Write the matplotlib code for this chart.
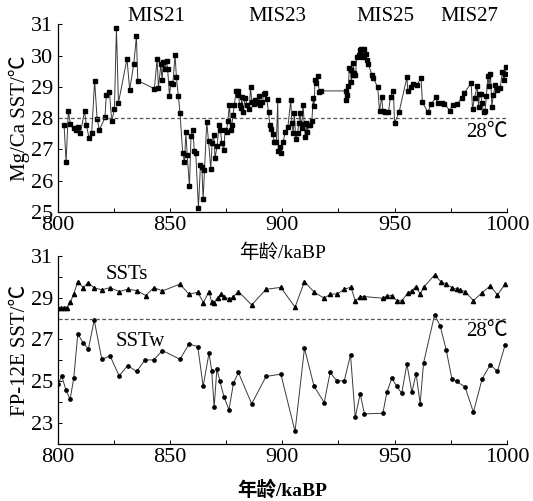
import numpy as np
import matplotlib
matplotlib.use('Agg')
import matplotlib.pyplot as plt
from matplotlib.ticker import MultipleLocator

plt.rcParams['font.family'] = ['Liberation Serif', 'Noto Sans CJK SC', 'DejaVu Sans']
plt.rcParams['font.size'] = 16

# Mg/Ca SST (top panel)
mg_age = [802.9, 803.8, 804.8, 805.7, 807.1, 808.1, 809.3, 810.2, 812.0, 812.8,
          814.0, 815.2, 816.5, 817.6, 818.6, 821.1, 821.7, 823.1, 824.1, 825.3,
          826.2, 827.1, 830.9, 832.1, 833.9, 835.1, 835.7,
          843.1, 844.3, 844.9, 846.0, 846.5, 847.1, 847.9, 848.5, 849.0, 849.8,
          850.4, 851.3, 852.3, 852.9, 853.8, 854.5, 855.7, 856.5, 857.1, 857.7,
          858.7, 859.4, 860.2, 860.9, 861.5, 862.7, 863.6, 864.2, 864.8, 865.4,
          866.4, 867.2, 868.2, 868.8, 869.5, 870.1, 871.0, 871.9, 872.5, 873.1,
          874.0, 874.6, 875.2, 875.8, 876.5, 877.1, 877.6, 878.1, 878.7, 879.5,
          880.1, 880.5, 881.0, 881.6, 882.0, 882.6, 883.5, 884.4, 885.3, 885.9,
          886.5, 887.3, 887.9, 888.5, 889.1, 889.7, 890.3, 891.2, 891.8, 892.4,
          893.1, 893.9, 894.5, 895.1, 895.8, 896.5, 897.4, 898.0, 898.3, 898.9,
          899.5, 900.4, 901.3, 902.5, 903.8, 904.3, 904.9, 905.4, 906.0, 906.8,
          907.4, 907.9, 908.6, 909.3, 909.8, 910.3, 910.8, 911.2, 911.8, 912.4,
          913.2, 913.8, 914.2, 914.6, 915.2, 915.8, 916.4, 917.3,
          928.3, 928.6, 928.9, 929.5, 929.8, 930.4, 930.7, 931.3, 931.6, 932.0,
          932.6, 933.2, 934.0, 934.5, 935.1, 935.7, 936.3, 936.6, 937.1, 937.7,
          938.4, 939.9, 940.6, 942.5, 943.3, 944.3, 944.8, 945.8, 947.3, 948.2,
          949.5, 950.0, 952.0, 955.5, 955.9, 957.4, 958.4, 959.9, 961.8, 962.4,
          964.8, 966.3, 968.4, 969.3, 971.0, 972.2, 974.6, 975.8, 977.7, 980.0,
          981.1, 984.1, 984.7, 985.6, 986.8, 987.4, 987.8, 988.4, 988.9, 989.6,
          990.3, 990.9, 991.5, 992.1, 992.7, 993.3, 994.0, 994.8, 995.5, 997.0,
          998.0, 998.6, 999.2, 999.8]
mg_sst = [27.77, 26.59, 28.23, 27.81, 27.67, 27.62, 27.73, 27.52, 28.22, 27.79,
          27.37, 27.53, 29.20, 27.97, 27.62, 28.02, 28.73, 28.83, 27.90, 28.29,
          30.87, 28.49, 29.89, 28.91, 29.72, 30.61, 29.20,
          28.94, 29.89, 28.97, 29.73, 29.21, 29.79, 29.57, 29.84, 29.57, 28.72,
          29.12, 29.10, 30.02, 29.30, 28.70, 28.16, 26.88, 26.59, 27.54, 26.83,
          25.82, 27.43, 27.63, 26.94, 26.90, 25.13, 26.49, 26.44, 25.41, 26.35,
          27.87, 27.26, 26.37, 27.20, 27.47, 26.72, 27.10, 27.79, 27.63, 27.20,
          26.99, 27.62, 27.57, 27.91, 28.43, 27.62, 27.79, 28.11, 28.43, 28.87,
          28.74, 28.87, 28.43, 28.32, 28.66, 28.19, 28.64, 28.43, 28.30, 28.98,
          28.51, 28.45, 28.59, 28.48, 28.53, 28.71, 28.43, 28.53, 28.77, 28.79,
          28.62, 28.19, 27.79, 27.66, 27.49, 27.23, 27.23, 28.57, 26.94, 27.07,
          26.88, 27.23, 27.55, 27.71, 28.57, 27.85, 27.52, 28.16, 27.34, 27.52,
          27.83, 28.16, 27.68, 28.43, 27.81, 27.40, 27.84, 27.57, 27.79, 27.79,
          27.91, 28.64, 28.40, 29.22, 29.12, 29.35, 28.85, 28.87,
          28.87, 28.59, 28.74, 29.04, 29.60, 29.54, 29.17, 29.38, 29.76, 29.44,
          29.38, 29.97, 30.02, 30.18, 30.20, 29.94, 30.02, 30.20, 30.04, 29.86,
          29.72, 29.38, 29.28, 28.98, 28.23, 28.69, 28.23, 28.21, 28.19, 28.69,
          28.87, 27.84, 28.19, 29.30, 28.87, 29.01, 29.09, 29.06, 29.28, 28.51,
          28.19, 28.45, 28.66, 28.48, 28.48, 28.45, 28.24, 28.43, 28.45, 28.64,
          28.81, 29.12, 28.29, 28.64, 29.03, 28.35, 28.78, 28.78, 28.48, 28.19,
          28.24, 28.71, 29.35, 29.04, 29.40, 28.37, 28.74, 29.06, 28.89, 28.96,
          29.47, 29.22, 29.40, 29.62]

# FP-12E SSTs (summer) and SSTw (winter), bottom panel
s_age = [800.1, 801.4, 802.9, 804.1, 805.7, 807.2, 809.0, 811.4, 813.7, 816.1,
         819.7, 823.4, 827.4, 831.2, 835.2, 839.3, 842.8, 846.7, 854.5, 858.5,
         862.4, 864.9, 867.4, 868.6, 869.7, 871.2, 872.6, 874.1, 876.5, 878.3,
         880.5, 886.4, 892.8, 899.4, 905.7, 909.9, 914.2, 918.7, 921.3, 924.6,
         927.6, 930.6, 932.5, 934.7, 936.6, 944.8, 946.6, 948.8, 951.0, 953.2,
         955.8, 957.7, 959.6, 961.4, 962.9, 967.8, 970.6, 973.0, 975.5, 977.7,
         979.2, 981.4, 985.1, 989.0, 992.6, 995.8, 999.2]
s_sst = [28.52, 28.52, 28.52, 28.52, 28.78, 29.18, 29.77, 29.48, 29.72, 29.48,
         29.37, 29.48, 29.29, 29.40, 29.34, 29.10, 29.48, 29.32, 29.65, 29.16,
         29.26, 28.76, 29.29, 28.78, 28.76, 29.00, 29.16, 29.05, 28.92, 29.05,
         29.29, 28.65, 29.40, 29.49, 28.54, 29.77, 29.26, 28.97, 29.16, 29.18,
         29.40, 29.50, 28.84, 29.05, 29.05, 28.97, 29.08, 29.10, 28.86, 28.84,
         29.21, 29.34, 29.53, 29.16, 29.49, 30.08, 29.77, 29.64, 29.48, 29.40,
         29.37, 29.29, 28.86, 29.24, 29.56, 29.13, 29.65]

w_age = [800.1, 801.9, 803.8, 805.6, 807.2, 809.0, 811.4, 813.7, 816.3, 819.7,
         823.4, 827.4, 831.2, 835.2, 838.9, 842.8, 846.7, 854.5, 858.5, 862.4,
         864.8, 867.4, 868.6, 869.7, 870.9, 872.3, 874.1, 876.3, 878.3, 880.5,
         886.4, 892.8, 899.4, 905.7, 909.9, 914.2, 918.7, 921.3, 924.3, 927.6,
         930.4, 932.5, 934.7, 936.6, 944.8, 946.6, 948.8, 951.0, 953.2, 955.5,
         957.7, 959.6, 961.4, 962.9, 967.8, 970.3, 973.0, 975.5, 977.7, 981.4,
         985.1, 989.0, 992.6, 995.8, 999.2]
w_sst = [24.88, 25.23, 24.56, 24.14, 25.15, 27.25, 26.85, 26.53, 27.93, 26.05,
         26.21, 25.26, 25.75, 25.47, 26.02, 26.02, 26.47, 26.05, 26.78, 26.66,
         24.76, 26.34, 25.51, 23.76, 25.58, 24.99, 24.24, 23.64, 24.91, 25.42,
         23.92, 25.23, 25.34, 22.60, 26.58, 24.75, 23.98, 25.42, 25.02, 25.02,
         26.26, 23.28, 24.40, 23.44, 23.47, 24.48, 25.15, 24.75, 24.43, 25.82,
         24.48, 25.36, 23.92, 25.87, 28.17, 27.65, 26.50, 25.12, 24.99, 24.72,
         23.52, 25.12, 25.79, 25.47, 26.74]

mis_labels = ['MIS21', 'MIS23', 'MIS25', 'MIS27']
mis_pos = [844, 898, 946, 983.5]

line_col = '#3a3a3a'

fig = plt.figure(figsize=(5.33, 5.01), dpi=100)
ax1 = fig.add_axes((0.108, 0.577, 0.843, 0.3745))
ax2 = fig.add_axes((0.108, 0.1138, 0.843, 0.3756))
ax2.patch.set_visible(False)  # let the upper x label show through

def style_axes(ax):
    for s in ['top', 'right']:
        ax.spines[s].set_visible(False)
    ax.spines['left'].set_linewidth(0.9)
    ax.spines['bottom'].set_linewidth(0.9)
    ax.set_xlim(800, 1000)
    ax.xaxis.set_major_locator(MultipleLocator(50))
    ax.xaxis.set_minor_locator(MultipleLocator(25))
    ax.tick_params(which='both', direction='in', length=3, width=0.7, pad=3)

# top panel
ax1.plot(mg_age, mg_sst, '-', color=line_col, lw=0.7, marker='s', ms=2.3,
         mfc='black', mec='black')
ax1.axhline(28, color='#555555', ls='--', lw=0.9, dashes=(3, 2))
ax1.set_ylim(25, 31)
ax1.yaxis.set_major_locator(MultipleLocator(1))
style_axes(ax1)
ax1.set_ylabel('Mg/Ca SST/℃', fontsize=15)
ax1.yaxis.set_label_coords(-0.062, 0.5)
ax1.set_xlabel('年龄/kaBP', fontsize=14, labelpad=6)
for lab, x in zip(mis_labels, mis_pos):
    ax1.text(x, 31.25, lab, ha='center', va='center', fontsize=15, clip_on=False)
ax1.text(1000.5, 27.55, '28℃', ha='right', va='center', fontsize=15)

# bottom panel
ax2.plot(s_age, s_sst, '-', color=line_col, lw=0.7, marker='^', ms=3,
         mfc='black', mec='black')
ax2.plot(w_age, w_sst, '-', color=line_col, lw=0.7, marker='o', ms=2.4,
         mfc='black', mec='black')
ax2.axhline(28, color='#555555', ls='--', lw=0.9, dashes=(3, 2))
ax2.set_ylim(22, 31)
ax2.yaxis.set_major_locator(MultipleLocator(2, offset=1))
ax2.yaxis.set_minor_locator(MultipleLocator(1))
style_axes(ax2)
ax2.set_ylabel('FP-12E SST/℃', fontsize=15)
ax2.yaxis.set_label_coords(-0.062, 0.5)
ax2.set_xlabel('年龄/kaBP', fontsize=14, fontweight='bold', labelpad=9)
ax2.text(831, 30.13, 'SSTs', ha='center', va='center', fontsize=15)
ax2.text(837, 26.88, 'SSTw', ha='center', va='center', fontsize=15)
ax2.text(1000.5, 27.38, '28℃', ha='right', va='center', fontsize=15)

plt.savefig('out.png', dpi=100)
